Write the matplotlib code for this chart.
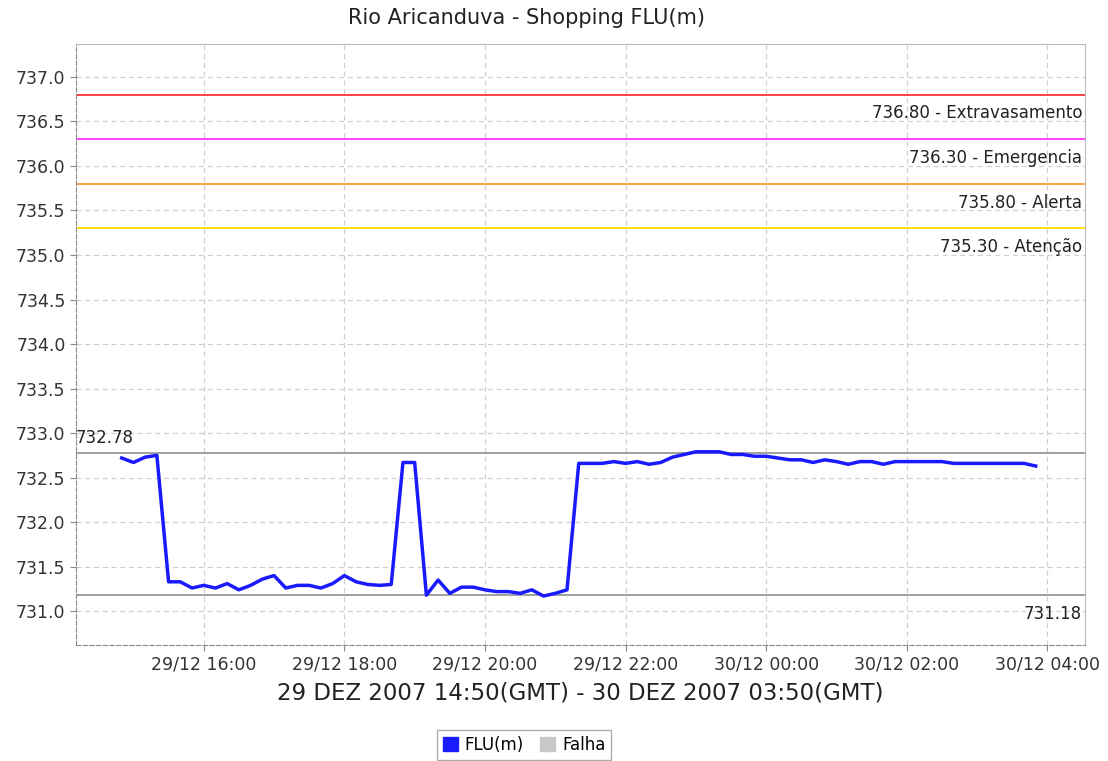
import datetime as dt

import matplotlib
matplotlib.use("Agg")
import matplotlib.pyplot as plt
import matplotlib.dates as mdates
from matplotlib.patches import Patch

# 10-minute readings, 29/12/2007 14:50 -> 30/12/2007 03:50
START = dt.datetime(2007, 12, 29, 14, 50)
level = [
    732.72, 732.67, 732.73, 732.75, 731.33, 731.33, 731.26, 731.29, 731.26, 731.31,
    731.24, 731.29, 731.36, 731.40, 731.26, 731.29, 731.29, 731.26, 731.31, 731.40,
    731.33, 731.30, 731.29, 731.30, 732.67, 732.67, 731.18, 731.35, 731.20, 731.27,
    731.27, 731.24, 731.22, 731.22, 731.20, 731.24, 731.17, 731.20, 731.24, 732.66,
    732.66, 732.66, 732.68, 732.66, 732.68, 732.65, 732.67, 732.73, 732.76, 732.79,
    732.79, 732.79, 732.76, 732.76, 732.74, 732.74, 732.72, 732.70, 732.70, 732.67,
    732.70, 732.68, 732.65, 732.68, 732.68, 732.65, 732.68, 732.68, 732.68, 732.68,
    732.68, 732.66, 732.66, 732.66, 732.66, 732.66, 732.66, 732.66, 732.63,
]
times = [START + dt.timedelta(minutes=10 * i) for i in range(len(level))]

thresholds = [736.80, 736.30, 735.80, 735.30]
threshold_names = ["Extravasamento", "Emergencia", "Alerta", "Atenção"]
threshold_colors = ["#ff3333", "#ff33ff", "#ff9933", "#ffdd00"]

obs_max = 732.78
obs_min = 731.18

fig = plt.figure(figsize=(11.08, 7.61), dpi=100)
ax = fig.add_axes([0.0686, 0.1524, 0.9106, 0.7898])

ax.set_xlim(dt.datetime(2007, 12, 29, 14, 11), dt.datetime(2007, 12, 30, 4, 32))
ax.set_ylim(730.62, 737.37)

ax.grid(True, color="#d0d0d0", ls=(0, (4, 3)), lw=0.9)
ax.set_axisbelow(True)

for v, name, c in zip(thresholds, threshold_names, threshold_colors):
    ax.axhline(v, color=c, lw=1.3, zorder=2)
    ax.annotate(f"{v:.2f} - {name}", (1, v), xycoords=("axes fraction", "data"),
                xytext=(-2, -7), textcoords="offset points", ha="right", va="top",
                fontsize=12, color="#222222")

ax.axhline(obs_max, color="#999999", lw=1.3, zorder=2)
ax.axhline(obs_min, color="#999999", lw=1.3, zorder=2)
ax.annotate(f"{obs_max:.2f}", (0, obs_max), xycoords=("axes fraction", "data"),
            xytext=(0, 4), textcoords="offset points", ha="left", va="bottom",
            fontsize=12, color="#222222")
ax.annotate(f"{obs_min:.2f}", (1, obs_min), xycoords=("axes fraction", "data"),
            xytext=(-2, -7), textcoords="offset points", ha="right", va="top",
            fontsize=12, color="#222222")

ax.plot(times, level, color="#1a1aff", lw=2.5, zorder=3)

ax.yaxis.set_major_locator(plt.MultipleLocator(0.5))
ax.yaxis.set_major_formatter(plt.FormatStrFormatter("%.1f"))
ax.xaxis.set_major_locator(mdates.HourLocator(byhour=range(0, 24, 2)))
ax.xaxis.set_major_formatter(mdates.DateFormatter("%d/%m %H:%M"))
ax.tick_params(labelsize=12.5, colors="#333333", length=4, color="#888888")

for s in ("left", "bottom"):
    ax.spines[s].set_color("#888888")
    ax.spines[s].set_linestyle((0, (4, 2)))
for s in ("top", "right"):
    ax.spines[s].set_color("#bbbbbb")

fig.text(527 / 1108, 1 - 18 / 761, "Rio Aricanduva - Shopping FLU(m)", fontsize=15,
         color="#222222", ha="center", va="center")
ax.set_xlabel("29 DEZ 2007 14:50(GMT) - 30 DEZ 2007 03:50(GMT)", fontsize=16.5,
              color="#222222", labelpad=6)

handles = [Patch(facecolor="#1a1aff", edgecolor="#1a1aff"),
           Patch(facecolor="#c8c8c8", edgecolor="#c8c8c8")]
fig.legend(handles, ["FLU(m)", "Falha"], loc="center", bbox_to_anchor=(0.473, 0.021),
           ncol=2, fontsize=12, frameon=True, fancybox=False, edgecolor="#999999",
           handlelength=0.9, handleheight=0.9, handletextpad=0.4, columnspacing=1.0,
           borderpad=0.35)

fig.savefig("out.png", dpi=100, facecolor="white")
